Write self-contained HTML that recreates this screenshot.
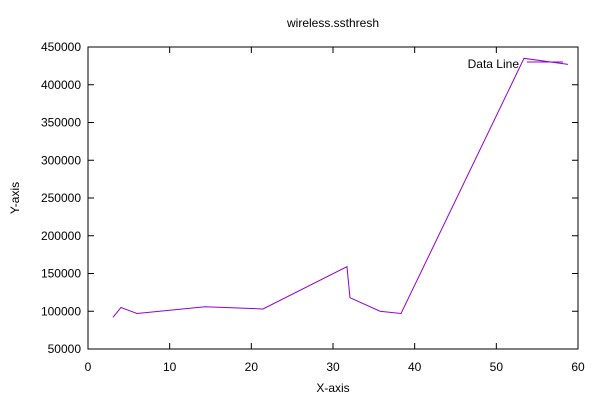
<!DOCTYPE html>
<html><head><meta charset="utf-8"><style>
body{margin:0;background:#fff;}
svg{display:block;font-family:"Liberation Sans",sans-serif;font-size:12px;}
</style></head><body>
<svg id="c" width="600" height="400">
<text x="333" y="27" text-anchor="middle">wireless.ssthresh</text>
<text x="333" y="392" text-anchor="middle">X-axis</text>
<text transform="translate(19,198) rotate(-90)" text-anchor="middle">Y-axis</text>
<g id="ax"></g>
<rect x="88" y="47" width="490" height="302" fill="none" stroke="#000"/>
<text x="519" y="68" text-anchor="end">Data Line</text>
<line x1="527" y1="62" x2="563" y2="62" stroke="#9400d3"/>
</svg>
<script>
const xs=[3.06,4.04,6.0,14.33,21.43,31.71,32.08,35.76,38.33,53.39,58.78];
const ys=[92000,105000,97000,106000,103000,159000,118000,100000,97000,435000,427000];
const xTicks=[0,10,20,30,40,50,60];
const yTicks=[50000,100000,150000,200000,250000,300000,350000,400000,450000];
const X=v=>88+v/60*490, Y=v=>349-(v-50000)/400000*302;
const ns="http://www.w3.org/2000/svg", ax=document.getElementById('ax'), svg=document.getElementById('c');
function mk(t,a,p){const e=document.createElementNS(ns,t);for(const k in a)e.setAttribute(k,a[k]);(p||ax).appendChild(e);return e;}
xTicks.forEach(v=>{
 const l=mk('path',{d:`M${X(v)} 349v-6M${X(v)} 47v6`,stroke:'#000'});
 
 
 const t=mk('text',{x:X(v),y:371,'text-anchor':'middle'});t.textContent=v;
 
 
});
yTicks.forEach(v=>{
 const l=mk('path',{d:`M88 ${Y(v)}h6M578 ${Y(v)}h-6`,stroke:'#000'});
 
 
 const t=mk('text',{x:81,y:Y(v)+4,'text-anchor':'end'});t.textContent=v;
 
 
});
const p=mk('polyline',{points:xs.map((x,i)=>X(x)+','+Y(ys[i])).join(' '),fill:'none',stroke:'#9400d3'},svg);


</script>
</body></html>
